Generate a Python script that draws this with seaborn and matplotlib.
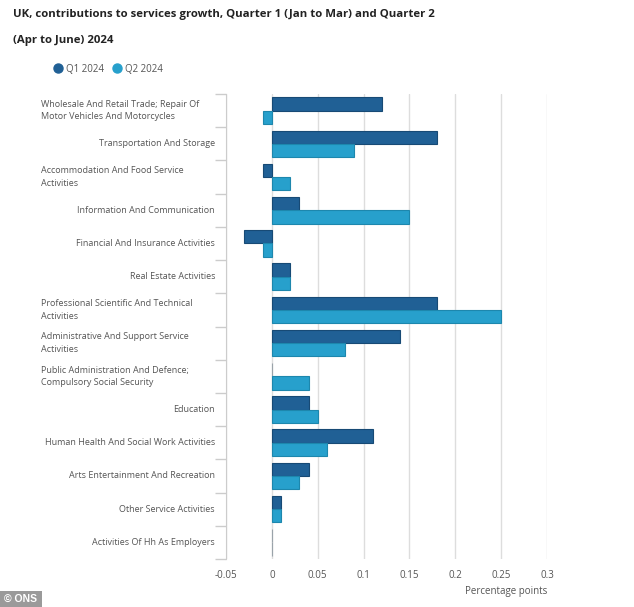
import pandas as pd
import matplotlib.pyplot as plt
import seaborn as sns
from matplotlib.lines import Line2D
from matplotlib.patches import Rectangle
from matplotlib.ticker import FixedLocator

industries = [
    "Wholesale And Retail Trade; Repair Of\nMotor Vehicles And Motorcycles",
    "Transportation And Storage",
    "Accommodation And Food Service\nActivities",
    "Information And Communication",
    "Financial And Insurance Activities",
    "Real Estate Activities",
    "Professional Scientific And Technical\nActivities",
    "Administrative And Support Service\nActivities",
    "Public Administration And Defence;\nCompulsory Social Security",
    "Education",
    "Human Health And Social Work Activities",
    "Arts Entertainment And Recreation",
    "Other Service Activities",
    "Activities Of Hh As Employers",
]
q1_2024 = [0.12, 0.18, -0.01, 0.03, -0.03, 0.02, 0.18, 0.14, 0.0, 0.04, 0.11, 0.04, 0.01, 0.0]
q2_2024 = [-0.01, 0.09, 0.02, 0.15, -0.01, 0.02, 0.25, 0.08, 0.04, 0.05, 0.06, 0.03, 0.01, 0.0]
quarters = ["Q1 2024", "Q2 2024"]
x_ticks = [-0.05, 0, 0.05, 0.1, 0.15, 0.2, 0.25, 0.3]
x_tick_labels = ["-0.05", "0", "0.05", "0.1", "0.15", "0.2", "0.25", "0.3"]

colors = {"Q1 2024": "#206095", "Q2 2024": "#27a0cc"}
edges = {"Q1 2024": "#174a75", "Q2 2024": "#1d87ad"}

df = pd.DataFrame({
    "Industry": industries * 2,
    "Value": q1_2024 + q2_2024,
    "Quarter": [quarters[0]] * len(industries) + [quarters[1]] * len(industries),
})

sns.set_style("white")
plt.rcParams["font.family"] = ["Open Sans", "DejaVu Sans"]

fig = plt.figure(figsize=(6.34, 6.07), dpi=100)
ax = fig.add_axes([226 / 634, 1 - 559 / 607, (547 - 226) / 634, (559 - 94) / 607])

sns.barplot(data=df, y="Industry", x="Value", hue="Quarter", orient="h",
            palette=colors, saturation=1, width=0.8, dodge=True, ax=ax,
            legend=False, zorder=3)

for cont, q in zip(ax.containers, quarters):
    for p in cont:
        p.set_edgecolor(edges[q])
        p.set_linewidth(0.8)
        if p.get_width() == 0:
            p.set_edgecolor("#9aa3aa")

ax.set_xlim(-0.05, 0.3)
ax.set_ylim(len(industries) - 0.5, -0.5)
ax.set_xticks(x_ticks)
ax.set_xticklabels(x_tick_labels, fontsize=7, color="#555555")
ax.tick_params(axis="x", length=0, pad=8)
ax.grid(axis="x", color="#dddddd", linewidth=1, zorder=0)
ax.set_xlabel("")
ax.set_ylabel("")

# y labels: single lines right-aligned, wrapped ones left-aligned
ax.set_yticklabels([])
ax.tick_params(axis="y", which="major", length=0)
ax.yaxis.set_minor_locator(FixedLocator([i - 0.5 for i in range(len(industries) + 1)]))
ax.tick_params(axis="y", which="minor", left=True, length=8, color="#cccccc", width=1)
ytrans = ax.get_yaxis_transform()
for i, lab in enumerate(industries):
    if "\n" in lab:
        ax.text((41 - 226) / 321, i, lab, transform=ytrans, ha="left", va="center",
                fontsize=6.5, color="#555555", linespacing=1.5)
    else:
        ax.text((215 - 226) / 321, i, lab, transform=ytrans, ha="right", va="center",
                fontsize=6.5, color="#555555")

for s in ["top", "right", "bottom"]:
    ax.spines[s].set_visible(False)
ax.spines["left"].set_color("#cccccc")

ax.text(1.0, -0.058, "Percentage points", transform=ax.transAxes, ha="right", va="top",
        fontsize=7, color="#555555")

fig.text(13 / 634, 1 - 15 / 607, "UK, contributions to services growth, Quarter 1 (Jan to Mar) and Quarter 2",
         fontsize=8.2, fontweight="bold", color="#222222", va="center")
fig.text(13 / 634, 1 - 40 / 607, "(Apr to June) 2024",
         fontsize=8.2, fontweight="bold", color="#222222", va="center")

handles = [Line2D([0], [0], marker="o", linestyle="", markersize=6.5,
                  markerfacecolor=colors[q], markeredgecolor=colors[q]) for q in quarters]
fig.legend(handles, quarters, loc="center left", bbox_to_anchor=(44 / 634, 1 - 69 / 607),
           ncol=2, frameon=False, fontsize=7, labelcolor="#555555",
           handletextpad=0.4, columnspacing=0.75, handlelength=1.0)

fig.patches.append(Rectangle((0, 0), 42 / 634, 16 / 607, transform=fig.transFigure,
                             facecolor="#9a9a9a", edgecolor="none"))
fig.text(21 / 634, 8 / 607, "© ONS", ha="center", va="center", fontsize=7.5,
         fontweight="bold", color="white", family=["Liberation Sans", "DejaVu Sans"])

fig.savefig("out.png", dpi=100)
plt.close(fig)
